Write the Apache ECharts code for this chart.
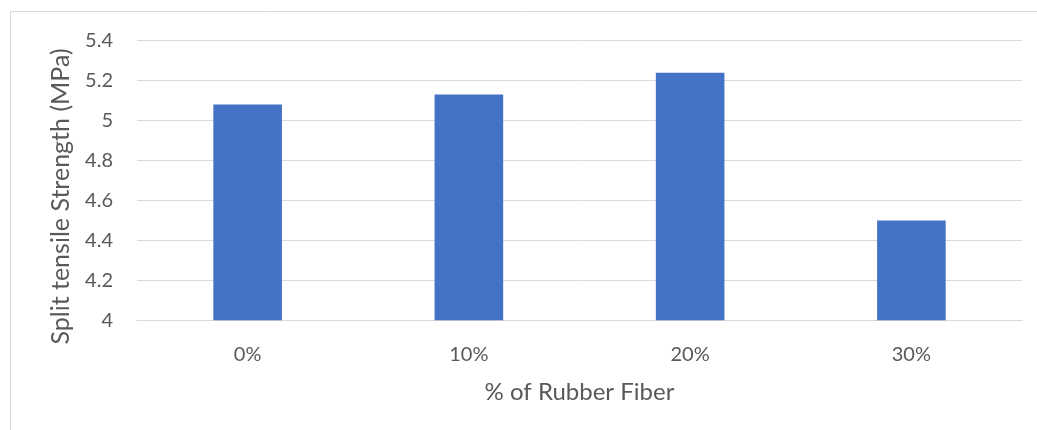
<!DOCTYPE html>
<html>
<head>
<meta charset="utf-8">
<script src="https://cdn.jsdelivr.net/npm/echarts@6/dist/echarts.min.js"></script>
<style>
html,body{margin:0;padding:0;background:#fff;}
#c{width:1037px;height:430px;}
</style>
</head>
<body>
<div id="c"></div>
<script>
var categories = ['0%', '10%', '20%', '30%'];
var strength = [5.08, 5.13, 5.24, 4.50];
var yTicks = [4, 4.2, 4.4, 4.6, 4.8, 5, 5.2, 5.4];

var FONT = 'Lato, "Open Sans", sans-serif';
var chart = echarts.init(document.getElementById('c'), null, {renderer: 'canvas'});
chart.setOption({
  animation: false,
  backgroundColor: '#ffffff',
  textStyle: {fontFamily: FONT},
  graphic: [{
    type: 'rect', silent: true,
    shape: {x: 10.5, y: 11.5, width: 1100, height: 500},
    style: {fill: 'none', stroke: '#d9d9d9', lineWidth: 1}
  }],
  grid: {left: 137, right: 15, top: 40.7, bottom: 109.7, containLabel: false},
  xAxis: {
    type: 'category',
    data: categories,
    name: '% of Rubber Fiber',
    nameLocation: 'middle',
    nameGap: 60,
    nameTextStyle: {color: '#595959', fontSize: 24, fontFamily: FONT},
    axisLine: {show: true, lineStyle: {color: '#d9d9d9', width: 1}},
    axisTick: {show: false},
    axisLabel: {color: '#595959', fontSize: 20, margin: 24, fontFamily: FONT}
  },
  yAxis: {
    type: 'value',
    min: 4, max: 5.4, interval: 0.2,
    name: 'Split tensile Strength (MPa)',
    nameLocation: 'middle',
    nameGap: 64,
    nameTextStyle: {color: '#595959', fontSize: 25, fontFamily: FONT, padding: [0, 32, 0, 0]},
    axisLine: {show: false},
    axisTick: {show: false},
    splitLine: {lineStyle: {color: '#d9d9d9', width: 1}},
    axisLabel: {
      color: '#595959', fontSize: 20, margin: 24, fontFamily: FONT,
      formatter: function (v) {
        var r = Math.round(v * 10) / 10;
        for (var i = 0; i < yTicks.length; i++) {
          if (Math.abs(yTicks[i] - r) < 1e-6) return String(yTicks[i]);
        }
        return String(r);
      }
    }
  },
  series: [{
    type: 'bar',
    data: strength,
    barWidth: '31%',
    itemStyle: {color: '#4472c4'}
  }]
});
</script>
</body>
</html>
